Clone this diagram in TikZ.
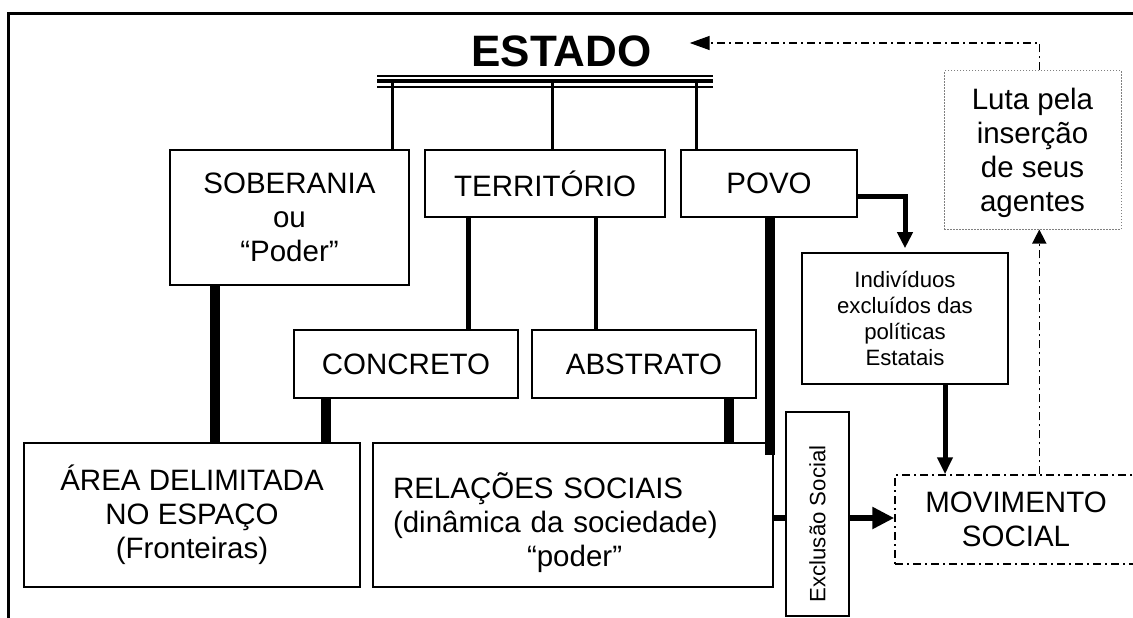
\documentclass[tikz,border=0pt]{standalone}
\usepackage{fontspec}
\setmainfont{Liberation Sans}
\usetikzlibrary{arrows.meta}
\tikzset{
  box/.style={draw, line width=1.6pt, inner sep=0pt, align=center, font=\fontsize{29.5}{34}\selectfont},
  smallbox/.style={box, font=\fontsize{22.2}{25.8}\selectfont},
  tie/.style={line width=3pt},
  mid/.style={line width=4.5pt},
  heavy/.style={line width=10pt},
  flow/.style={line width=5pt},
  dashdot/.style={line width=1.5pt, dash pattern=on 8pt off 4pt on 2pt off 4pt},
}
\begin{document}
\begin{tikzpicture}[x=1pt,y=-1pt]
\useasboundingbox (0,0) rectangle (1133,618);
\clip (0,0) rectangle (1133,618);
% outer frame
\draw[line width=3pt] (1140,14) -- (8,14) -- (8,625);
% title
\node[font=\fontsize{44}{50}\selectfont\bfseries, inner ysep=0pt, inner xsep=38pt] (estado) at (561.5,51) {ESTADO};
% triple bar
\draw[line width=2pt] (377,76) -- (713,76);
\draw[line width=4pt] (377,81.5) -- (713,81.5);
\draw[line width=2pt] (377,87.5) -- (713,87.5);
% boxes
\node[box, minimum width=239pt, minimum height=135pt] (sob) at (289.5,217.5) {SOBERANIA\\ou\\“Poder”};
\node[box, minimum width=240pt, minimum height=67pt] (ter) at (545,183.5) {TERRITÓRIO};
\node[box, minimum width=176pt, minimum height=67pt] (povo) at (769,183.5) {POVO};
\node[box, minimum width=224pt, minimum height=68pt] (conc) at (406,364) {CONCRETO};
\node[box, minimum width=224pt, minimum height=68pt] (abs) at (644,364) {ABSTRATO};
\node[box, minimum width=336pt, minimum height=144pt] (area) at (192,515) {ÁREA DELIMITADA\\NO ESPAÇO\\(Fronteiras)};
\node[box, minimum width=400pt, minimum height=144pt, text width=360pt, align=left] (rel) at (573,515) {\rule{0pt}{41pt}RELAÇÕES SOCIAIS\\(dinâmica da sociedade)\\\hspace*{134pt}“poder”};
\node[smallbox, rotate=90, minimum width=204pt, minimum height=63pt] (exc) at (817.5,514) {Exclusão Social\hspace*{20pt}};
\node[smallbox, minimum width=206pt, minimum height=131pt] (ind) at (905,318.5) {Indivíduos\\excluídos das\\políticas\\Estatais};
\node[box, dashdot, minimum width=242pt, minimum height=89pt] (mov) at (1016,519.5) {MOVIMENTO\\SOCIAL};
\node[box, draw=gray, line width=1pt, dash pattern=on 1.5pt off 1.5pt, minimum width=177pt, minimum height=158pt] (luta) at (1032.5,150) {\rule{0pt}{27.5pt}Luta pela\\inserção\\de seus\\agentes};
% ties from the bar
\draw[tie] (392.7,81.5) -- (sob.north -| 392.7,0);
\draw[tie] (552.7,81.5) -- (ter.north -| 552.7,0);
\draw[tie] (696.7,81.5) -- (povo.north -| 696.7,0);
% territory links
\draw[mid] (ter.south -| 468.7,0) -- (conc.north -| 468.7,0);
\draw[mid] (ter.south -| 596,0) -- (abs.north -| 596,0);
% heavy bars
\draw[heavy] (sob.south -| 215,0) -- (area.north -| 215,0);
\draw[heavy] (conc.south -| 326,0) -- (area.north -| 326,0);
\draw[heavy] (abs.south -| 728.7,0) -- (rel.north -| 728.7,0);
\draw[heavy] (povo.south -| 770,0) -- (770,455);
% flows
\draw[line width=6pt] (rel.east |- 0,518) -- (exc.north |- 0,518);
\draw[line width=6pt, -{Triangle[length=22pt,width=21pt]}] (exc.south |- 0,518) -- (mov.west |- 0,518);
\draw[flow, -{Triangle[length=16pt,width=15pt]}, shorten >=4pt] (povo.east |- 0,196) -| (ind.north);
\draw[flow, -{Triangle[length=17pt,width=15pt]}] (ind.south -| 945,0) -- (mov.north -| 945,0);
\draw[dashdot, -{Triangle[length=14pt,width=14pt]}] (mov.north -| 1039.3,0) -- (luta.south -| 1039.3,0);
\draw[dashdot, -{Triangle[length=20pt,width=14pt]}] (luta.north -| 1039.3,0) |- (estado.east |- 0,43);
\end{tikzpicture}
\end{document}
